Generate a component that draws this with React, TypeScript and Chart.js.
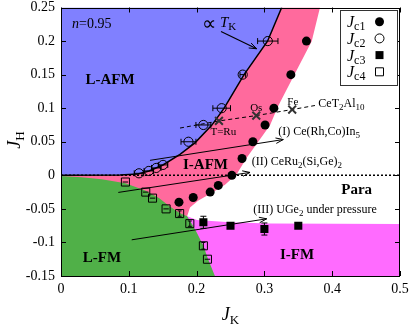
import React, { useEffect, useRef } from 'react';
import { Chart, registerables } from 'chart.js';

Chart.register(...registerables);

// ---------- axis ticks ----------
const xTickValues = [0, 0.1, 0.2, 0.3, 0.4, 0.5];
const xTickLabels = ['0', '0.1', '0.2', '0.3', '0.4', '0.5'];
const yTickValues = [-0.15, -0.1, -0.05, 0, 0.05, 0.1, 0.15, 0.2, 0.25];
const yTickLabels = ['-0.15', '-0.1', '-0.05', '0', '0.05', '0.1', '0.15', '0.2', '0.25'];

// ---------- data series ----------
const jc1JK = [0.174, 0.195, 0.22, 0.232, 0.252, 0.267, 0.283, 0.301, 0.314, 0.339, 0.362];
const jc1JH = [-0.04, -0.033, -0.025, -0.015, 0.0, 0.025, 0.05, 0.075, 0.1, 0.15, 0.2];

const jc2JK = [0.115, 0.1295, 0.1405, 0.1505, 0.188, 0.21, 0.237, 0.268, 0.305];
const jc2JH = [0.003, 0.0065, 0.011, 0.0155, 0.05, 0.075, 0.1, 0.15, 0.2];
const jc2Err = [0.007, 0.007, 0.007, 0.007, 0.011, 0.011, 0.013, 0.004, 0.015];

const jc3JK = [0.21, 0.25, 0.3, 0.35];
const jc3JH = [-0.07, -0.075, -0.08, -0.075];
const jc3Err = [0.009, 0, 0.009, 0];

const jc4JK = [0.095, 0.125, 0.135, 0.155, 0.175, 0.19, 0.21, 0.216];
const jc4JH = [-0.01, -0.025, -0.034, -0.05, -0.057, -0.072, -0.105, -0.125];
const jc4XErr = [0.004, 0.004, 0.004, 0.004, 0, 0, 0, 0.004];
const jc4YErr = [0, 0, 0, 0, 0.004, 0.004, 0.005, 0];

// CeT2Al10 compounds
const ceNames = ['T=Ru', 'Os', 'Fe'];
const ceJK = [0.233, 0.288, 0.341];
const ceJH = [0.081, 0.089, 0.098];
const ceLineJK = [0.1755, 0.233, 0.288, 0.341, 0.3746];
const ceLineJH = [0.0704, 0.081, 0.089, 0.098, 0.104];

// ---------- phase boundaries ----------
// L-AFM / I-AFM boundary (∝ T_K)
const afmCurveJK = [0, 0.087, 0.1136, 0.1298, 0.1504, 0.1755, 0.1976, 0.2222, 0.2404, 0.27, 0.3046, 0.3255];
const afmCurveJH = [0, 0.0003, 0.0021, 0.0065, 0.0154, 0.0311, 0.0483, 0.0744, 0.0998, 0.15, 0.1998, 0.25];
// I-AFM / Para boundary
const paraEdgeJK = [0.382, 0.3698, 0.3451, 0.32, 0.3083, 0.2906, 0.2739, 0.2591, 0.2419, 0.2227, 0.2021, 0.1903, 0.186];
const paraEdgeJH = [0.25, 0.1998, 0.1516, 0.1024, 0.0744, 0.0497, 0.0261, 0.0016, -0.0142, -0.026, -0.0378, -0.0481, -0.061];
// L-FM upper boundary (to the junction) and lower boundary (to the bottom)
const lfmUpperJK = [0, 0.03, 0.06, 0.095, 0.125, 0.145, 0.16, 0.175, 0.186];
const lfmUpperJH = [-0.001, -0.003, -0.006, -0.012, -0.023, -0.034, -0.046, -0.056, -0.061];
const lfmLowerJK = [0.186, 0.193, 0.2, 0.21, 0.217, 0.227];
const lfmLowerJH = [-0.061, -0.072, -0.085, -0.105, -0.125, -0.15];
// Para / I-FM boundary
const ifmEdgeJK = [0.186, 0.2006, 0.249, 0.308, 0.5];
const ifmEdgeJH = [-0.061, -0.0666, -0.0698, -0.0717, -0.0724];

// annotation arrows [start, end]
const arrowIJK = [0.1313, 0.3279];
const arrowIJH = [0.0223, 0.0533];
const arrowIIJK = [0.0845, 0.2788];
const arrowIIJH = [-0.0255, 0.0043];
const arrowIIIJK = [0.1043, 0.3034];
const arrowIIIJH = [-0.0961, -0.0648];
const arrowTKJK = [0.236, 0.2886];
const arrowTKJH = [0.2143, 0.1885];

const zeroJK = [0, 0.5];
const zeroJH = [0, 0];

// ---------- styles ----------
const FONT = "'Liberation Serif', 'Times New Roman', serif";
const C_LAFM = '#8080ff';
const C_IAFM = '#ff6a9d';
const C_IFM = '#ff6bff';
const C_LFM = '#50b048';

type Seg = { t: string; size: number; italic?: boolean; bold?: boolean; dy?: number };

const fontOf = (s: Seg) => `${s.italic ? 'italic ' : ''}${s.bold ? 'bold ' : ''}${s.size}px ${FONT}`;

function drawRich(ctx: CanvasRenderingContext2D, segs: Seg[], x: number, yc: number, align: 'left' | 'center' | 'right') {
  let w = 0;
  for (const s of segs) {
    ctx.font = fontOf(s);
    w += ctx.measureText(s.t).width;
  }
  let cx = align === 'left' ? x : align === 'center' ? x - w / 2 : x - w;
  const base = yc + 0.34 * segs[0].size;
  ctx.textAlign = 'left';
  ctx.textBaseline = 'alphabetic';
  for (const s of segs) {
    ctx.font = fontOf(s);
    ctx.fillText(s.t, cx, base + (s.dy || 0));
    cx += ctx.measureText(s.t).width;
  }
}

type Note = { jk: number; jh: number; align: 'left' | 'center' | 'right'; segs: Seg[] };
const notes: Note[] = [
  { jk: 0.0162, jh: 0.2269, align: 'left', segs: [{ t: 'n', size: 14, italic: true }, { t: '=0.95', size: 14 }] },
  { jk: 0.0723, jh: 0.1438, align: 'center', segs: [{ t: 'L-AFM', size: 15, bold: true }] },
  { jk: 0.2131, jh: 0.0168, align: 'center', segs: [{ t: 'I-AFM', size: 15, bold: true }] },
  { jk: 0.4361, jh: -0.0201, align: 'center', segs: [{ t: 'Para', size: 15, bold: true }] },
  { jk: 0.0605, jh: -0.1219, align: 'center', segs: [{ t: 'L-FM', size: 15, bold: true }] },
  { jk: 0.3481, jh: -0.1168, align: 'center', segs: [{ t: 'I-FM', size: 15, bold: true }] },
  { jk: 0.2183, jh: 0.2265, align: 'center', segs: [{ t: '\u221D', size: 20 }] },
  { jk: 0.2345, jh: 0.2279, align: 'left', segs: [{ t: 'T', size: 15, italic: true }, { t: 'K', size: 11, dy: 3 }] },
  { jk: 0.288, jh: 0.1017, align: 'center', segs: [{ t: ceNames[1], size: 11 }] },
  { jk: 0.3419, jh: 0.1106, align: 'center', segs: [{ t: ceNames[2], size: 11 }] },
  { jk: 0.2394, jh: 0.0651, align: 'center', segs: [{ t: ceNames[0], size: 11 }] },
  { jk: 0.3795, jh: 0.1079, align: 'left', segs: [{ t: 'CeT', size: 12 }, { t: '2', size: 9, dy: 3 }, { t: 'Al', size: 12 }, { t: '10', size: 9, dy: 3 }] },
  { jk: 0.3205, jh: 0.0663, align: 'left', segs: [{ t: '(I) Ce(Rh,Co)In', size: 12 }, { t: '5', size: 9, dy: 3 }] },
  { jk: 0.2813, jh: 0.0213, align: 'left', segs: [{ t: '(II) CeRu', size: 12 }, { t: '2', size: 9, dy: 3 }, { t: '(Si,Ge)', size: 12 }, { t: '2', size: 9, dy: 3 }] },
  { jk: 0.2836, jh: -0.0503, align: 'left', segs: [{ t: '(III) UGe', size: 12 }, { t: '2', size: 9, dy: 3 }, { t: ' under pressure', size: 12 }] },
];

const pts = (xs: number[], ys: number[]) => xs.map((v, i) => ({ x: v, y: ys[i] }));

const phasePlugin = {
  id: 'phases',
  beforeDatasetsDraw(chart: any) {
    const { ctx, chartArea: a, scales } = chart;
    const X = (v: number) => scales.x.getPixelForValue(v);
    const Y = (v: number) => scales.y.getPixelForValue(v);
    const poly = (jk: number[], jh: number[], color: string) => {
      ctx.beginPath();
      jk.forEach((v, i) => (i ? ctx.lineTo(X(v), Y(jh[i])) : ctx.moveTo(X(v), Y(jh[i]))));
      ctx.closePath();
      ctx.fillStyle = color;
      ctx.fill();
    };
    ctx.save();
    ctx.beginPath();
    ctx.rect(a.left, a.top, a.width, a.height);
    ctx.clip();
    const rc = [...afmCurveJK].reverse();
    const rh = [...afmCurveJH].reverse();
    // L-AFM
    poly([0, ...rc], [0.25, ...rh], C_LAFM);
    // I-AFM (extends into L-FM area, covered later)
    poly([...afmCurveJK, ...paraEdgeJK, 0.17, 0], [...afmCurveJH, ...paraEdgeJH, -0.09, -0.09], C_IAFM);
    // I-FM (extends into L-FM area, covered later)
    poly([...ifmEdgeJK, 0.5, 0.18, 0.17], [...ifmEdgeJH, -0.15, -0.15, -0.07], C_IFM);
    // L-FM
    poly([...lfmUpperJK, ...lfmLowerJK.slice(1), 0], [...lfmUpperJH, ...lfmLowerJH.slice(1), -0.15], C_LFM);
    ctx.restore();
  },
  afterDatasetsDraw(chart: any) {
    const { ctx, chartArea: a, scales } = chart;
    const X = (v: number) => scales.x.getPixelForValue(v);
    const Y = (v: number) => scales.y.getPixelForValue(v);
    ctx.save();
    ctx.strokeStyle = '#000';
    ctx.fillStyle = '#000';
    ctx.lineWidth = 1;
    const hbar = (x: number, y: number, e: number, cap: number) => {
      const x0 = X(x - e), x1 = X(x + e), py = Y(y);
      ctx.beginPath();
      ctx.moveTo(x0, py); ctx.lineTo(x1, py);
      ctx.moveTo(x0, py - cap); ctx.lineTo(x0, py + cap);
      ctx.moveTo(x1, py - cap); ctx.lineTo(x1, py + cap);
      ctx.stroke();
    };
    const vbar = (x: number, y: number, e: number, cap: number) => {
      const y0 = Y(y - e), y1 = Y(y + e), px = X(x);
      ctx.beginPath();
      ctx.moveTo(px, y0); ctx.lineTo(px, y1);
      ctx.moveTo(px - cap, y0); ctx.lineTo(px + cap, y0);
      ctx.moveTo(px - cap, y1); ctx.lineTo(px + cap, y1);
      ctx.stroke();
    };
    jc2JK.forEach((v, i) => hbar(v, jc2JH[i], jc2Err[i], 3));
    jc3JK.forEach((v, i) => { if (jc3Err[i]) vbar(v, jc3JH[i], jc3Err[i], 3); });
    jc4JK.forEach((v, i) => {
      if (jc4XErr[i]) hbar(v, jc4JH[i], jc4XErr[i], 0);
      if (jc4YErr[i]) vbar(v, jc4JH[i], jc4YErr[i], 2);
    });
    const head = (jk: number[], jh: number[]) => {
      const x0 = X(jk[0]), y0 = Y(jh[0]), x1 = X(jk[1]), y1 = Y(jh[1]);
      const ang = Math.atan2(y1 - y0, x1 - x0);
      const L = 8, w = 0.35;
      ctx.beginPath();
      ctx.moveTo(x1 - L * Math.cos(ang - w), y1 - L * Math.sin(ang - w));
      ctx.lineTo(x1, y1);
      ctx.lineTo(x1 - L * Math.cos(ang + w), y1 - L * Math.sin(ang + w));
      ctx.stroke();
    };
    head(arrowIJK, arrowIJH);
    head(arrowIIJK, arrowIIJH);
    head(arrowIIIJK, arrowIIIJH);
    head(arrowTKJK, arrowTKJH);
    // frame
    ctx.beginPath();
    ctx.rect(Math.round(a.left) + 0.5, Math.round(a.top) + 0.5, Math.round(a.width) - 1, Math.round(a.height) - 1);
    ctx.stroke();
    // inward ticks on all four sides
    ctx.beginPath();
    xTickValues.forEach((v) => {
      const px = Math.round(X(v)) + 0.5;
      ctx.moveTo(px, a.bottom); ctx.lineTo(px, a.bottom - 5);
      ctx.moveTo(px, a.top); ctx.lineTo(px, a.top + 5);
    });
    yTickValues.forEach((v) => {
      const py = Math.round(Y(v)) + 0.5;
      ctx.moveTo(a.left, py); ctx.lineTo(a.left + 5, py);
      ctx.moveTo(a.right, py); ctx.lineTo(a.right - 5, py);
    });
    ctx.stroke();
    ctx.fillStyle = '#000';
    notes.forEach((n) => drawRich(ctx, n.segs, X(n.jk), Y(n.jh), n.align));
    ctx.restore();
  },
  afterDraw(chart: any) {
    const { ctx, chartArea: a } = chart;
    ctx.save();
    ctx.fillStyle = '#000';
    drawRich(ctx, [{ t: 'J', size: 18, italic: true }, { t: 'K', size: 13, dy: 4 }], (a.left + a.right) / 2, 314, 'center');
    ctx.translate(14, 140);
    ctx.rotate(-Math.PI / 2);
    drawRich(ctx, [{ t: 'J', size: 18, italic: true }, { t: 'H', size: 13, dy: 4 }], 0, 0, 'center');
    ctx.restore();

    // legend
    ctx.save();
    const bx = 340.5, by = 10.5, bw = 57, bh = 75;
    ctx.fillStyle = '#fff';
    ctx.fillRect(bx, by, bw, bh);
    ctx.strokeStyle = '#333';
    ctx.lineWidth = 1;
    ctx.strokeRect(bx, by, bw, bh);
    const rows = [
      { sub: 'c1', style: 'circle', fill: true },
      { sub: 'c2', style: 'circle', fill: false },
      { sub: 'c3', style: 'rect', fill: true },
      { sub: 'c4', style: 'rect', fill: false },
    ];
    rows.forEach((r, i) => {
      const yc = 21.7 + i * 16.7;
      ctx.fillStyle = '#000';
      drawRich(ctx, [{ t: 'J', size: 16, italic: true }, { t: r.sub, size: 12, dy: 3 }], 347, yc, 'left');
      ctx.strokeStyle = '#000';
      ctx.lineWidth = 1;
      const mx = 379.5;
      ctx.beginPath();
      if (r.style === 'circle') ctx.arc(mx, yc, 4.5, 0, Math.PI * 2);
      else ctx.rect(mx - 4, yc - 4, 8, 8);
      if (r.fill) { ctx.fill(); } else { ctx.stroke(); }
    });
    ctx.restore();
  },
};

export default function App() {
  const ref = useRef<HTMLCanvasElement>(null);
  useEffect(() => {
    const canvas = ref.current!;
    const tickFont = { family: FONT, size: 14 };
    const lineDs = (jk: number[], jh: number[], width: number, dash: number[] = []) => ({
      data: pts(jk, jh),
      showLine: true,
      pointRadius: 0,
      borderColor: '#000',
      borderWidth: width,
      borderDash: dash,
      fill: false,
      tension: 0,
    });
    const chart = new Chart(canvas, {
      type: 'scatter',
      data: {
        datasets: [
          { label: 'Jc1', data: pts(jc1JK, jc1JH), pointStyle: 'circle', pointRadius: 4.5, pointBackgroundColor: '#000', pointBorderColor: '#000', pointBorderWidth: 0 },
          { label: 'Jc2', data: pts(jc2JK, jc2JH), pointStyle: 'circle', pointRadius: 4.6, pointBackgroundColor: 'rgba(0,0,0,0)', pointBorderColor: '#000', pointBorderWidth: 1 },
          { label: 'Jc3', data: pts(jc3JK, jc3JH), pointStyle: 'rect', pointRadius: 5.7, pointBackgroundColor: '#000', pointBorderColor: '#000', pointBorderWidth: 0 },
          { label: 'Jc4', data: pts(jc4JK, jc4JH), pointStyle: 'rect', pointRadius: 5.7, pointBackgroundColor: 'rgba(0,0,0,0)', pointBorderColor: '#000', pointBorderWidth: 1 },
          { label: 'CeT2Al10', data: pts(ceJK, ceJH), pointStyle: 'crossRot', pointRadius: 5.5, pointBorderColor: '#333', pointBorderWidth: 2 },
          { label: 'CeLine', ...lineDs(ceLineJK, ceLineJH, 1, [4, 3]) },
          { label: 'TK', ...lineDs(afmCurveJK, afmCurveJH, 1.5) },
          { label: 'zero', ...lineDs(zeroJK, zeroJH, 1.5, [2, 2]) },
          { label: 'I', ...lineDs(arrowIJK, arrowIJH, 1) },
          { label: 'II', ...lineDs(arrowIIJK, arrowIIJH, 1) },
          { label: 'III', ...lineDs(arrowIIIJK, arrowIIIJH, 1) },
          { label: 'TKarrow', ...lineDs(arrowTKJK, arrowTKJH, 1.2) },
        ] as any,
      },
      options: {
        animation: false,
        responsive: false,
        devicePixelRatio: 1,
        events: [],
        layout: { padding: { top: 5, right: 9, left: 0, bottom: 0 } },
        plugins: { legend: { display: false }, tooltip: { enabled: false } },
        scales: {
          x: {
            type: 'linear',
            min: 0,
            max: 0.5,
            afterBuildTicks: (s: any) => { s.ticks = xTickValues.map((v) => ({ value: v })); },
            ticks: { font: tickFont, color: '#000', padding: 5, maxRotation: 0, autoSkip: false, callback: (_v: any, i: number) => xTickLabels[i] },
            grid: { display: false, drawTicks: false },
            border: { display: false },
            afterFit: (s: any) => { s.height = 49; s.paddingLeft = 0; s.paddingRight = 0; },
          },
          y: {
            type: 'linear',
            min: -0.15,
            max: 0.25,
            afterBuildTicks: (s: any) => { s.ticks = yTickValues.map((v) => ({ value: v })); },
            ticks: { font: tickFont, color: '#000', padding: 6, autoSkip: false, callback: (_v: any, i: number) => yTickLabels[i] },
            grid: { display: false, drawTicks: false },
            border: { display: false },
            afterFit: (s: any) => { s.width = 61; s.paddingTop = 0; s.paddingBottom = 0; },
          },
        },
      } as any,
      plugins: [phasePlugin],
    });
    return () => chart.destroy();
  }, []);
  return (
    <div style={{ position: 'absolute', left: 0, top: 0, width: 409, height: 325, background: '#fff' }}>
      <canvas ref={ref} width={409} height={325} style={{ display: 'block', width: 409, height: 325 }} />
    </div>
  );
}
